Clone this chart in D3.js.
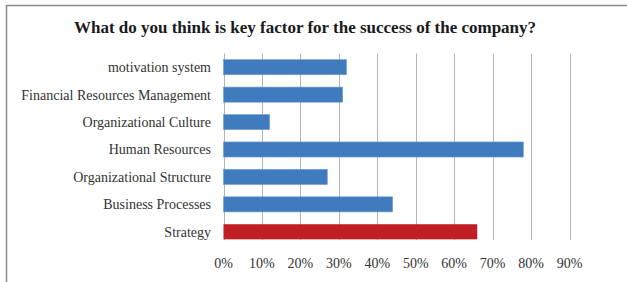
<!DOCTYPE html>
<html>
<head>
<meta charset="utf-8">
<script src="https://cdn.jsdelivr.net/npm/d3@7"></script>
<style>
  body { margin: 0; background: #fff; }
  svg { display: block; font-family: 'Liberation Serif', 'Times New Roman', serif; }
</style>
</head>
<body>
<div id="chart"></div>
<script>
const categories = [
  'motivation system',
  'Financial Resources Management',
  'Organizational Culture',
  'Human Resources',
  'Organizational Structure',
  'Business Processes',
  'Strategy'
];
const values = [0.32, 0.31, 0.12, 0.78, 0.27, 0.44, 0.66];
const highlighted = ['Strategy'];
const ticks = [0, 0.1, 0.2, 0.3, 0.4, 0.5, 0.6, 0.7, 0.8, 0.9];

const width = 627;
const height = 282;
const plot = { left: 223.5, right: 569.5, top: 53.5, bottom: 245.5 };

const svg = d3
  .select('#chart')
  .append('svg')
  .attr('width', width)
  .attr('height', height);

// frame
svg
  .append('path')
  .attr('d', `M6.5,${height} V5.5 H${width}`)
  .attr('fill', 'none')
  .attr('stroke', '#8a8a8a')
  .attr('stroke-width', 1.5);

svg
  .append('text')
  .attr('x', 305)
  .attr('y', 33)
  .attr('text-anchor', 'middle')
  .style('font-size', '17px')
  .style('font-weight', 'bold')
  .style('fill', '#1a1a1a')
  .text('What do you think is key factor for the success of the company?');

const x = d3.scaleLinear().domain([0, 0.9]).range([plot.left, plot.right]);

const y = d3
  .scaleBand()
  .domain(categories)
  .range([plot.top, plot.bottom])
  .paddingInner(0.45)
  .paddingOuter(0.225);

// gridlines
svg
  .append('g')
  .selectAll('line')
  .data(ticks)
  .join('line')
  .attr('x1', d => Math.round(x(d)) + 0.5)
  .attr('x2', d => Math.round(x(d)) + 0.5)
  .attr('y1', plot.top)
  .attr('y2', 240)
  .attr('stroke', '#b4b4b4')
  .attr('stroke-width', 1);

// bars
svg
  .append('g')
  .selectAll('rect')
  .data(categories.map((c, i) => ({ c, v: values[i] })))
  .join('rect')
  .attr('x', x(0))
  .attr('y', d => y(d.c))
  .attr('width', d => x(d.v) - x(0))
  .attr('height', y.bandwidth())
  .attr('fill', d => (highlighted.includes(d.c) ? '#be1e24' : '#3f7bbd'))
  .attr('stroke', d => (highlighted.includes(d.c) ? 'none' : '#6e9fd3'))
  .attr('stroke-width', 0.6);

// category labels
svg
  .append('g')
  .selectAll('text')
  .data(categories)
  .join('text')
  .attr('x', 211)
  .attr('y', d => y(d) + y.bandwidth() / 2)
  .attr('dy', '0.35em')
  .attr('text-anchor', 'end')
  .style('font-size', '14px')
  .style('fill', '#333')
  .text(d => d);

// tick labels
svg
  .append('g')
  .selectAll('text')
  .data(ticks)
  .join('text')
  .attr('x', d => x(d))
  .attr('y', 268)
  .attr('text-anchor', 'middle')
  .style('font-size', '14px')
  .style('fill', '#333')
  .text(d => d3.format('.0%')(d));
</script>
</body>
</html>
